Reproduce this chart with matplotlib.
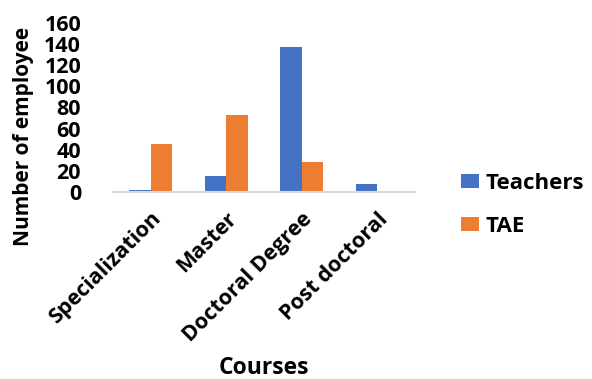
import matplotlib.pyplot as plt
import numpy as np

courses = ["Specialization", "Master", "Doctoral Degree", "Post doctoral"]
teachers = [2, 15, 137, 7]
tae = [45, 73, 28, 0]
yticks = [0, 20, 40, 60, 80, 100, 120, 140, 160]

plt.rcParams['font.family'] = ['Open Sans', 'DejaVu Sans']
plt.rcParams['font.weight'] = 'bold'

fig = plt.figure(figsize=(5.92, 3.79), dpi=100)
ax = fig.add_axes([0.191, 0.494, 0.510, 0.445])

x = np.arange(len(courses))
w = 0.285
ax.bar(x - w / 2, teachers, w, color="#4472C4", label="Teachers")
ax.bar(x + w / 2, tae, w, color="#ED7D31", label="TAE")

ax.set_xlim(-0.5, len(courses) - 0.5)
ax.set_ylim(0, 160)
ax.set_yticks(yticks)
ax.set_yticklabels([str(v) for v in yticks], fontsize=15.5, fontweight='bold')
ax.set_xticks(x)
ax.set_xticklabels(courses, rotation=45, ha='right', rotation_mode='anchor',
                   fontsize=15.5, fontweight='bold')
ax.tick_params(axis='y', length=0, pad=23)
ax.tick_params(axis='x', length=0, pad=12)

for s in ['top', 'right', 'left']:
    ax.spines[s].set_visible(False)
ax.spines['bottom'].set_color('#D9D9D9')
ax.spines['bottom'].set_linewidth(1.5)

fig.text(0.039, 0.639, "Number of employee", rotation=90, ha='center', va='center',
         fontsize=15, fontweight='bold')
fig.text(0.446, 0.029, "Courses", ha='center', va='center',
         fontsize=16.5, fontweight='bold')

fig.legend(loc='center left', bbox_to_anchor=(0.745, 0.46), frameon=False,
           prop={'size': 16, 'weight': 'bold'}, handlelength=0.8, handleheight=0.6,
           handletextpad=0.3, labelspacing=1.0)

fig.savefig("out.png", dpi=100)
